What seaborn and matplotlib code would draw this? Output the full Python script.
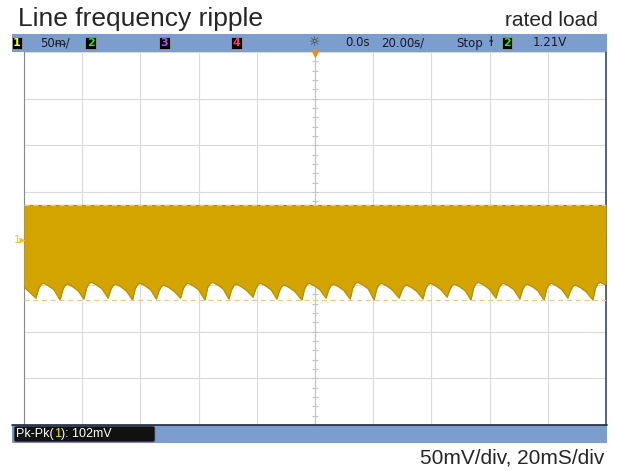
import numpy as np
import pandas as pd
import matplotlib.pyplot as plt
import seaborn as sns
from matplotlib.patches import Rectangle, FancyBboxPatch

# Scope capture: 50 mV/div, 20 ms/div, 120 Hz ripple on the bottom envelope
trough_t = [-95.9, -87.6, -79.4, -71.1, -62.7, -54.5, -46.2, -37.8, -29.6, -21.3, -13.1, -4.5,
            3.8, 12.1, 20.3, 28.9, 37.1, 45.4, 53.6, 62.2, 70.4, 78.7, 86.9, 95.5]
trough_mv = [-64, -66, -65, -64, -66, -65, -64, -66, -65, -63, -65, -66,
             -64, -65, -66, -64, -65, -63, -66, -64, -65, -66, -64, -66]
peak_mv = [-48, -49, -47, -49, -48, -50, -48, -47, -49, -48, -50, -48,
           -49, -47, -48, -50, -48, -49, -47, -48, -49, -48, -50, -47]
start_mv = -52
top_mv = 36
cursor_top, cursor_bot = 36, -66
pk_pk = "102mV"

# bottom envelope: quick rounded rise after each trough, slow decay to the next one
rows = [(-100, start_mv)]
for t, lo, hi in zip(trough_t, trough_mv, peak_mv):
    rows += [(t, lo), (t + 0.9, hi - 6), (t + 1.8, hi - 1), (t + 2.6, hi),
             (t + 4.2, hi - 2.5), (t + 6.2, hi - 7)]
rows.append((100, peak_mv[-1] - 2))
df = pd.DataFrame(rows, columns=["t", "mv"])
df = df[df["t"] <= 100]

sns.set_style("white")
plt.rcParams["font.family"] = ["Liberation Sans", "DejaVu Sans"]

W, H = 618, 471
fig = plt.figure(figsize=(W / 100, H / 100), dpi=100)


def fx(x, y):
    return x / W, 1 - y / H


ax = fig.add_axes([24 / W, 1 - 425 / H, 582 / W, 373 / H])
ax.set_xlim(-100, 100)
ax.set_ylim(-200, 200)
ax.set_xticks(np.arange(-100, 101, 20))
ax.set_yticks(np.arange(-200, 201, 50))
ax.tick_params(length=0, labelbottom=False, labelleft=False)
ax.grid(True, color="#dadada", lw=0.8)

# center cross with minor ticks
ax.axhline(0, color="#c4c4c4", lw=0.8)
ax.axvline(0, color="#c4c4c4", lw=0.8)
mx = np.arange(-100, 101, 4)
my = np.arange(-200, 201, 10)
ax.plot(mx, np.zeros_like(mx), ls="none", marker="|", ms=4, color="#c4c4c4", mew=0.8)
ax.plot(np.zeros_like(my), my, ls="none", marker="_", ms=4, color="#c4c4c4", mew=0.8)

# waveform band
ax.fill_between(df["t"], df["mv"], top_mv, color="#d3a400", lw=0, zorder=3)
sns.lineplot(data=df, x="t", y="mv", ax=ax, color="#b88f00", lw=0.9, zorder=4)
ax.plot([-100, 100], [top_mv, top_mv], color="#b88f00", lw=0.9, zorder=4)
ax.set_xlabel("")
ax.set_ylabel("")

# measurement cursors
for v in (cursor_top, cursor_bot):
    ax.axhline(v, color="#f2c48e", lw=0.9, ls=(0, (4, 3)), zorder=5)

for s in ("top", "bottom"):
    ax.spines[s].set_visible(False)
ax.spines["left"].set_color("#8a8a8a")
ax.spines["right"].set_color("#3a4a66")
ax.spines["right"].set_linewidth(1.2)

# status bars
fig.patches.append(Rectangle(fx(12, 52), 595 / W, 18 / H, transform=fig.transFigure,
                             fc="#7c9ecf", ec="none", zorder=0))
fig.patches.append(Rectangle(fx(12, 443), 595 / W, 18 / H, transform=fig.transFigure,
                             fc="#7c9ecf", ec="none", zorder=0))
fig.lines.append(plt.Line2D([12 / W, 607 / W], [1 - 425 / H] * 2, transform=fig.transFigure,
                            color="#1c2840", lw=1.2))

cond = ["DejaVu Sans", "Noto Sans"]
box = dict(boxstyle="square,pad=0.12", fc="black", ec="#999999", lw=0.6)
for x, lab, c in [(17, "1", "#ffff20"), (90.5, "2", "#30e030"), (164.5, "3", "#b050ff"),
                  (236.5, "4", "#ff3a6a"), (507, "2", "#30e030")]:
    fig.text(*fx(x, 43), lab, color=c, fontsize=8, fontweight="bold", family=cond,
             ha="center", va="center", bbox=box)

bar_txt = [(40, "50ᵯ/"), (345, "0.0s"), (381, "20.00ᵴ/"), (456, "Stop"), (489, "ɫ"), (533, "1.21V")]
for x, s in bar_txt:
    fig.text(*fx(x, 43), s, color="#1a1a2a", fontsize=8.5, family=cond, ha="left", va="center")
fig.text(*fx(315, 43), "☼", color="#333333", fontsize=9, family=cond, ha="center", va="center")

# trigger marker and ground marker
fig.lines.append(plt.Line2D([315 / W], [1 - 54 / H], transform=fig.transFigure, ls="none",
                            marker="v", ms=6, color="#f08a10", mec="none"))
fig.text(*fx(17, 240), "1", color="#f5c518", fontsize=8, family=cond, ha="center", va="center")
fig.lines.append(plt.Line2D([21.5 / W], [1 - 240 / H], transform=fig.transFigure, ls="none",
                            marker=">", ms=4, color="#f5c518", mec="none"))

# Pk-Pk readout
fig.patches.append(FancyBboxPatch(fx(14, 442), 141 / W, 16 / H, boxstyle="round,pad=0,rounding_size=0.004",
                                  transform=fig.transFigure, fc="#111111", ec="#777777", lw=0.6))
r = fig.canvas.get_renderer()
x0 = 16 / W
for s, c in [("Pk-Pk(", "white"), ("1", "#e8e800"), ("): " + pk_pk, "white")]:
    t = fig.text(x0, 1 - 434 / H, s, color=c, fontsize=9, ha="left", va="center")
    x0 += t.get_window_extent(r).width / W

# captions
fig.text(*fx(18, 19), "Line frequency ripple", fontsize=19, ha="left", va="center")
fig.text(*fx(598, 20), "rated load", fontsize=15, ha="right", va="center")
fig.text(*fx(604, 458), "50mV/div, 20mS/div", fontsize=15, ha="right", va="center")

fig.savefig("out.png", dpi=100)
